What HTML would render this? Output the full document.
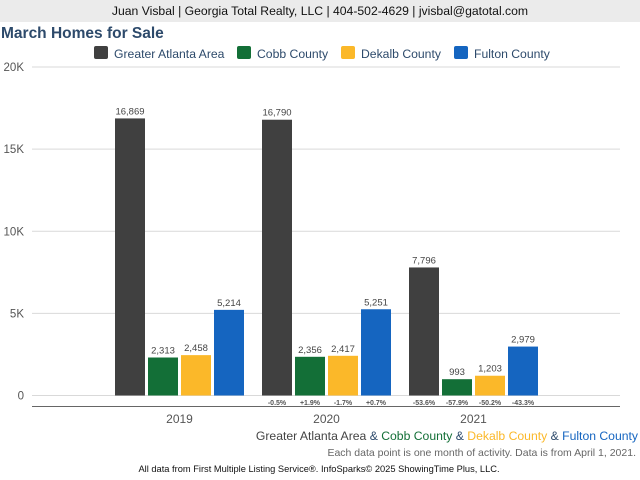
<!DOCTYPE html>
<html><head><meta charset="utf-8"><style>
body{margin:0;width:640px;height:480px;background:#fff;font-family:"Liberation Sans",sans-serif;overflow:hidden;position:relative}
.hdr{position:absolute;left:0;top:0;width:640px;height:22px;background:#ebebeb;text-align:center;font-size:12.2px;line-height:22px;color:#111}
.title{position:absolute;left:1px;top:25px;font-size:15.5px;font-weight:bold;color:#2d4a6b}
</style></head><body>
<div class="hdr">Juan Visbal | Georgia Total Realty, LLC | 404-502-4629 | jvisbal@gatotal.com</div>
<div class="title">March Homes for Sale</div>
<svg id="c" width="640" height="480" style="position:absolute;left:0;top:0"></svg>
<script>
const years=["2019","2020","2021"];
const seriesNames=["Greater Atlanta Area","Cobb County","Dekalb County","Fulton County"];
const atlanta=[16869,16790,7796];
const cobb=[2313,2356,993];
const dekalb=[2458,2417,1203];
const fulton=[5214,5251,2979];
const pct2020=["-0.5%","+1.9%","-1.7%","+0.7%"];
const pct2021=["-53.6%","-57.9%","-50.2%","-43.3%"];
const yTicks=[0,5000,10000,15000,20000];
const yTickLabels=["0","5K","10K","15K","20K"];
const colors=["#404040","#136f37","#fbb829","#1565c0"];
const svg=document.getElementById('c');const NS="http://www.w3.org/2000/svg";
function el(t,a,txt){const e=document.createElementNS(NS,t);for(const k in a)e.setAttribute(k,a[k]);if(txt!=null)e.textContent=txt;svg.appendChild(e);return e;}
const y=v=>395.5-v*(328.5/20000);
const x=(g,s)=>115+g*147+s*33;
yTicks.forEach((t,i)=>{
 const l=el('line',{x1:32,x2:620,y1:y(t),y2:y(t),stroke:'#d9d9d9','stroke-width':1});
 
 const tx=el('text',{x:24,y:y(t)+4,'text-anchor':'end','font-size':11.5,fill:'#555'},yTickLabels[i]);
 
});
const ax=el('line',{x1:32,x2:620,y1:406.5,y2:406.5,stroke:'#666','stroke-width':1});

const series=[atlanta,cobb,dekalb,fulton];
const pcts=[null,pct2020,pct2021];
years.forEach((yr,g)=>{
 series.forEach((s,si)=>{
  const v=s[g];
  const r=el('rect',{x:x(g,si),y:y(v),width:30,height:395.5-y(v),fill:colors[si]});
  
  const t=el('text',{x:x(g,si)+15,y:y(v)-4,'text-anchor':'middle','font-size':9.5,fill:'#444'},v.toLocaleString('en-US'));
  
  if(pcts[g]){const p=el('text',{x:x(g,si)+15,y:405,'text-anchor':'middle','font-size':7,'font-weight':'bold',fill:'#555'},pcts[g][si]);
   }
 });
 const xl=el('text',{x:x(g,0)+64.5,y:423,'text-anchor':'middle','font-size':12,fill:'#555'},yr);
 
});
// legend
const lx=[94,237,341,454];
seriesNames.forEach((n,i)=>{
 const r=el('rect',{x:lx[i],y:46,width:14,height:13,rx:2,fill:colors[i]});
 
 const t=el('text',{x:lx[i]+20,y:58,'font-size':12.2,fill:'#2d4a6b'},n);
 
});
const sub=el('text',{x:638,y:440,'text-anchor':'end','font-size':12.2});

const parts=[["Greater Atlanta Area","#444"],[" & ","#2d4a6b"],["Cobb County","#136f37"],[" & ","#2d4a6b"],["Dekalb County","#fbb829"],[" & ","#2d4a6b"],["Fulton County","#1565c0"]];
parts.forEach(p=>{const s=document.createElementNS(NS,'tspan');s.setAttribute('fill',p[1]);s.textContent=p[0];sub.appendChild(s);});
const n1=el('text',{x:636,y:456,'text-anchor':'end','font-size':10.5,fill:'#666'},"Each data point is one month of activity. Data is from April 1, 2021.");

const n2=el('text',{x:319,y:472,'text-anchor':'middle','font-size':9.3,fill:'#111'},"All data from First Multiple Listing Service®. InfoSparks© 2025 ShowingTime Plus, LLC.");

</script>
</body></html>
